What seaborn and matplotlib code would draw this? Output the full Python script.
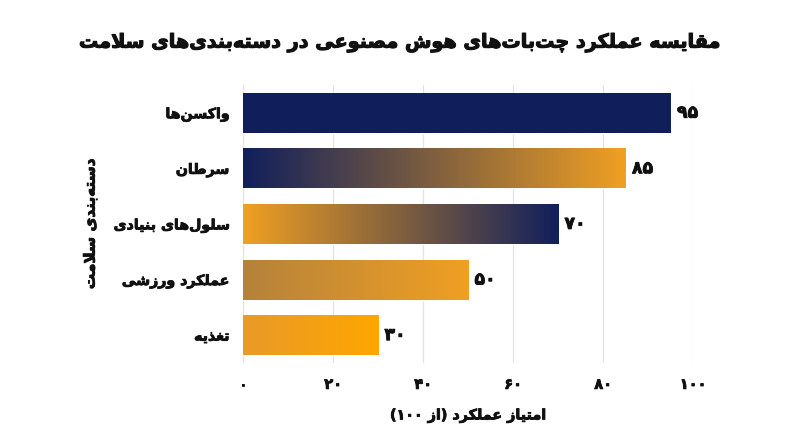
import numpy as np
import pandas as pd
import matplotlib
matplotlib.use("Agg")
import matplotlib.pyplot as plt
import matplotlib.patheffects as pe
import seaborn as sns
from matplotlib.colors import LinearSegmentedColormap

# ---------------- data ----------------
categories = ["واکسن‌ها", "سرطان", "سلول‌های بنیادی", "عملکرد ورزشی", "تغذیه"]
scores = [95, 85, 70, 50, 30]
x_ticks = [0, 20, 40, 60, 80, 100]
title_text = "مقایسه عملکرد چت‌بات‌های هوش مصنوعی در دسته‌بندی‌های سلامت"
x_label_text = "امتیاز عملکرد (از ۱۰۰)"
y_label_text = "دسته‌بندی سلامت"

# ---------------- styles ----------------
NAVY = "#101f5b"
ORANGE = "#f0a023"
TEXT = "#111111"
bar_gradients = [
    (NAVY, NAVY),
    (NAVY, ORANGE),
    (ORANGE, NAVY),
    ("#b5823b", "#f0a023"),
    ("#e99a29", "#ffa600"),
]

# ---------------- Persian shaping (presentation forms + visual order) ----------------
FORMS = {
    '\u0627': ('\uFE8D', '\uFE8E', None, None),
    '\u0622': ('\uFE81', '\uFE82', None, None),
    '\u0623': ('\uFE83', '\uFE84', None, None),
    '\u0625': ('\uFE87', '\uFE88', None, None),
    '\u0628': ('\uFE8F', '\uFE90', '\uFE91', '\uFE92'),
    '\u067E': ('\uFB56', '\uFB57', '\uFB58', '\uFB59'),
    '\u062A': ('\uFE95', '\uFE96', '\uFE97', '\uFE98'),
    '\u062B': ('\uFE99', '\uFE9A', '\uFE9B', '\uFE9C'),
    '\u062C': ('\uFE9D', '\uFE9E', '\uFE9F', '\uFEA0'),
    '\u0686': ('\uFB7A', '\uFB7B', '\uFB7C', '\uFB7D'),
    '\u062D': ('\uFEA1', '\uFEA2', '\uFEA3', '\uFEA4'),
    '\u062E': ('\uFEA5', '\uFEA6', '\uFEA7', '\uFEA8'),
    '\u062F': ('\uFEA9', '\uFEAA', None, None),
    '\u0630': ('\uFEAB', '\uFEAC', None, None),
    '\u0631': ('\uFEAD', '\uFEAE', None, None),
    '\u0632': ('\uFEAF', '\uFEB0', None, None),
    '\u0698': ('\uFB8A', '\uFB8B', None, None),
    '\u0633': ('\uFEB1', '\uFEB2', '\uFEB3', '\uFEB4'),
    '\u0634': ('\uFEB5', '\uFEB6', '\uFEB7', '\uFEB8'),
    '\u0635': ('\uFEB9', '\uFEBA', '\uFEBB', '\uFEBC'),
    '\u0636': ('\uFEBD', '\uFEBE', '\uFEBF', '\uFEC0'),
    '\u0637': ('\uFEC1', '\uFEC2', '\uFEC3', '\uFEC4'),
    '\u0638': ('\uFEC5', '\uFEC6', '\uFEC7', '\uFEC8'),
    '\u0639': ('\uFEC9', '\uFECA', '\uFECB', '\uFECC'),
    '\u063A': ('\uFECD', '\uFECE', '\uFECF', '\uFED0'),
    '\u0641': ('\uFED1', '\uFED2', '\uFED3', '\uFED4'),
    '\u0642': ('\uFED5', '\uFED6', '\uFED7', '\uFED8'),
    '\u06A9': ('\uFB8E', '\uFB8F', '\uFB90', '\uFB91'),
    '\u06AF': ('\uFB92', '\uFB93', '\uFB94', '\uFB95'),
    '\u0644': ('\uFEDD', '\uFEDE', '\uFEDF', '\uFEE0'),
    '\u0645': ('\uFEE1', '\uFEE2', '\uFEE3', '\uFEE4'),
    '\u0646': ('\uFEE5', '\uFEE6', '\uFEE7', '\uFEE8'),
    '\u0648': ('\uFEED', '\uFEEE', None, None),
    '\u0647': ('\uFEE9', '\uFEEA', '\uFEEB', '\uFEEC'),
    '\u06CC': ('\uFBFC', '\uFBFD', '\uFBFE', '\uFBFF'),
    '\u064A': ('\uFEF1', '\uFEF2', '\uFEF3', '\uFEF4'),
    '\u0629': ('\uFE93', '\uFE94', None, None),
}
LAM_ALEF = {'\u0627': ('\uFEFB', '\uFEFC'), '\u0622': ('\uFEF5', '\uFEF6'),
            '\u0623': ('\uFEF7', '\uFEF8'), '\u0625': ('\uFEF9', '\uFEFA')}
DIGITS = set('0123456789\u06F0\u06F1\u06F2\u06F3\u06F4\u06F5\u06F6\u06F7\u06F8\u06F9')
MIRROR = {'(': ')', ')': '(', '[': ']', ']': '['}


def dual(c):
    return c in FORMS and FORMS[c][2] is not None


def shape(s):
    out = []
    i = 0
    n = len(s)
    while i < n:
        c = s[i]
        if c not in FORMS:
            if c != '\u200c':
                out.append(c)
            i += 1
            continue
        prev = s[i - 1] if i > 0 else ''
        cp = dual(prev)
        if c == '\u0644' and i + 1 < n and s[i + 1] in LAM_ALEF:
            out.append(LAM_ALEF[s[i + 1]][1 if cp else 0])
            i += 2
            continue
        nxt = s[i + 1] if i + 1 < n else ''
        cn = dual(c) and nxt in FORMS
        iso, fin, ini, med = FORMS[c]
        if cp and cn:
            out.append(med)
        elif cp:
            out.append(fin)
        elif cn:
            out.append(ini)
        else:
            out.append(iso)
        i += 1
    return out


def rtl(s):
    glyphs = shape(s)
    tokens = []
    for g in glyphs:
        if g in DIGITS and tokens and tokens[-1][0] in DIGITS:
            tokens[-1] += g
        else:
            tokens.append(g)
    tokens.reverse()
    return ''.join(MIRROR.get(t, t) for t in tokens)


FA = str.maketrans('0123456789', '\u06F0\u06F1\u06F2\u06F3\u06F4\u06F5\u06F6\u06F7\u06F8\u06F9')


def fa(v):
    return str(v).translate(FA)


HEAVY = [pe.withStroke(linewidth=0.6, foreground=TEXT)]

# ---------------- plot ----------------
sns.set_theme(style="whitegrid")
plt.rcParams['font.family'] = ['DejaVu Sans']

fig = plt.figure(figsize=(8, 4.47), dpi=100)
ax = fig.add_axes([0.304, 0.188, 0.5625, 0.622])

df = pd.DataFrame({"category": [rtl(c) for c in categories], "score": scores})
sns.barplot(data=df, x="score", y="category", orient="h", width=0.72,
            color=NAVY, ax=ax, zorder=2)

grad = np.linspace(0, 1, 256).reshape(1, -1)
for p, (c0, c1) in zip(ax.patches, bar_gradients):
    x0, y0, w, h = p.get_x(), p.get_y(), p.get_width(), p.get_height()
    cmap = LinearSegmentedColormap.from_list("g", [c0, c1])
    im = ax.imshow(grad, cmap=cmap, extent=[x0, x0 + w, y0 + h, y0],
                   aspect="auto", interpolation="bilinear", zorder=2.5)
    im.set_clip_path(p)

vlabels = ax.bar_label(ax.containers[0], labels=[fa(v) for v in scores], padding=4.5,
                       fontsize=12.5, fontweight="bold", color=TEXT)
for t in vlabels:
    t.set_path_effects(HEAVY)

ax.set_xlim(0, 100)
ax.set_ylim(4.5, -0.5)
ax.set_xticks(x_ticks)
ax.set_xticklabels([fa(t) for t in x_ticks], fontsize=10.5, fontweight="bold", color=TEXT)
for lab in ax.get_xticklabels():
    lab.set_path_effects(HEAVY)
for lab in ax.get_yticklabels():
    lab.set_fontsize(10.2)
    lab.set_fontweight("bold")
    lab.set_color(TEXT)
    lab.set_path_effects(HEAVY)
ax.tick_params(axis="both", length=0)
ax.tick_params(axis="y", pad=10)
ax.tick_params(axis="x", pad=10)

ax.grid(axis="x", color="#e2e2e2", linewidth=0.9)
ax.grid(axis="y", visible=False)
ax.set_axisbelow(True)
for sp in ax.spines.values():
    sp.set_visible(False)

ax.set_xlabel(rtl(x_label_text), fontsize=10.3, fontweight="bold", color=TEXT)
ax.xaxis.set_label_coords(0.5, -0.19)
ax.xaxis.label.set_va("center")
ax.xaxis.label.set_path_effects(HEAVY)
ax.set_ylabel(rtl(y_label_text), fontsize=11, fontweight="bold", color=TEXT)
ax.yaxis.set_label_coords(-0.34, 0.5)
ax.yaxis.label.set_va("center")
ax.yaxis.label.set_path_effects(HEAVY)

fig.text(0.5, 0.904, rtl(title_text), ha="center", va="center",
         fontsize=13.8, fontweight="bold", color=TEXT,
         path_effects=[pe.withStroke(linewidth=0.8, foreground=TEXT)])

fig.savefig("out.png", dpi=100)
